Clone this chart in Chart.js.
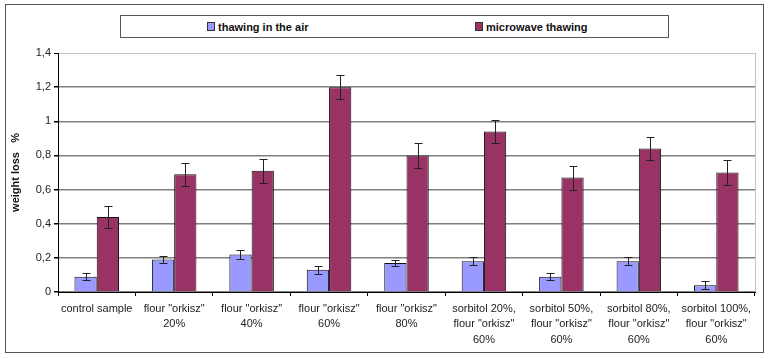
<!DOCTYPE html>
<html lang="en">
<head>
    <meta charset="UTF-8">
    <title>Weight loss</title>
    <script src="https://cdn.jsdelivr.net/npm/chart.js"></script>
    <style>
        body {
            margin: 0;
            background: #ffffff;
            font-family: 'Liberation Sans', Arial, sans-serif;
        }
        .wrap {
            position: relative;
            width: 770px;
            height: 359px;
        }
        .frame {
            position: absolute;
            left: 5px;
            top: 4px;
            width: 757px;
            height: 347px;
            border: 1px solid #555;
        }
        canvas {
            position: absolute;
            left: 0;
            top: 0;
        }
        #legend {
            position: absolute;
            left: 120px;
            top: 15px;
            width: 547px;
            height: 21px;
            border: 1px solid #555;
            display: flex;
            background: #fff;
        }
        #legend .item {
            flex: 1;
            display: flex;
            align-items: center;
            justify-content: center;
            font-size: 11px;
            font-weight: bold;
            color: #111;
        }
        #legend .box {
            width: 6px;
            height: 7px;
            border: 1px solid #333;
            margin-right: 3px;
        }
    </style>
</head>
<body>
    <div class="wrap">
        <div class="frame"></div>
        <canvas id="lossChart" width="770" height="359"></canvas>
        <div id="legend"></div>
    </div>

    <script>
        const categories = [
            "control sample",
            ['flour "orkisz"', "20%"],
            ['flour "orkisz"', "40%"],
            ['flour "orkisz"', "60%"],
            ['flour "orkisz"', "80%"],
            ["sorbitol 20%,", 'flour "orkisz"', "60%"],
            ["sorbitol 50%,", 'flour "orkisz"', "60%"],
            ["sorbitol 80%,", 'flour "orkisz"', "60%"],
            ["sorbitol 100%,", 'flour "orkisz"', "60%"]
        ];
        const seriesNames = ["thawing in the air", "microwave thawing"];
        const airLoss = [0.09, 0.19, 0.22, 0.13, 0.17, 0.18, 0.09, 0.18, 0.04];
        const airErr = [0.02, 0.022, 0.024, 0.022, 0.018, 0.024, 0.02, 0.024, 0.022];
        const microLoss = [0.44, 0.69, 0.71, 1.2, 0.8, 0.94, 0.67, 0.84, 0.7];
        const microErr = [0.066, 0.068, 0.07, 0.072, 0.073, 0.07, 0.071, 0.069, 0.071];
        const yTicks = [0, 0.2, 0.4, 0.6, 0.8, 1, 1.2, 1.4];

        const colors = ["#9999ff", "#993366"];

        // error bars drawn from the y scale
        const errorBars = {
            id: "errorBars",
            afterDatasetsDraw(chart) {
                const ctx = chart.ctx;
                const y = chart.scales.y;
                ctx.save();
                ctx.strokeStyle = "#222";
                ctx.lineWidth = 1;
                chart.data.datasets.forEach((ds, di) => {
                    const meta = chart.getDatasetMeta(di);
                    meta.data.forEach((bar, i) => {
                        const v = ds.data[i];
                        const e = ds.errors[i];
                        const x = Math.round(bar.x) + 0.5;
                        const top = Math.round(y.getPixelForValue(v + e)) + 0.5;
                        const bot = Math.round(y.getPixelForValue(v - e)) + 0.5;
                        ctx.beginPath();
                        ctx.moveTo(x, top);
                        ctx.lineTo(x, bot);
                        ctx.moveTo(x - 4, top);
                        ctx.lineTo(x + 4, top);
                        ctx.moveTo(x - 4, bot);
                        ctx.lineTo(x + 4, bot);
                        ctx.stroke();
                    });
                });
                ctx.restore();
            }
        };

        // light grey right edge of the plot area
        const plotEdge = {
            id: "plotEdge",
            beforeDatasetsDraw(chart) {
                const { ctx, chartArea } = chart;
                ctx.save();
                ctx.strokeStyle = "#c4c4c4";
                ctx.lineWidth = 1;
                ctx.beginPath();
                ctx.moveTo(Math.round(chartArea.right) + 0.5, chartArea.top);
                ctx.lineTo(Math.round(chartArea.right) + 0.5, chartArea.bottom);
                ctx.stroke();
                ctx.restore();
            }
        };

        Chart.defaults.font.family = "'Liberation Sans', Arial, sans-serif";
        Chart.defaults.font.size = 11;
        Chart.defaults.color = "#222";

        const chart = new Chart(document.getElementById("lossChart"), {
            type: "bar",
            data: {
                labels: categories,
                datasets: [
                    {
                        label: seriesNames[0],
                        data: airLoss,
                        errors: airErr,
                        backgroundColor: colors[0],
                        borderColor: "#111",
                        borderWidth: 1,
                        categoryPercentage: 0.575,
                        barPercentage: 1
                    },
                    {
                        label: seriesNames[1],
                        data: microLoss,
                        errors: microErr,
                        backgroundColor: colors[1],
                        borderColor: "#111",
                        borderWidth: 1,
                        categoryPercentage: 0.575,
                        barPercentage: 1
                    }
                ]
            },
            options: {
                responsive: false,
                animation: false,
                layout: { padding: { top: 53, right: 15, bottom: 0, left: 0 } },
                plugins: {
                    legend: { display: false },
                    tooltip: { enabled: false }
                },
                scales: {
                    x: {
                        afterFit: s => { s.height = 67; },
                        grid: {
                            offset: true,
                            drawOnChartArea: false,
                            tickLength: 4,
                            tickColor: "#000"
                        },
                        border: { color: "#000", width: 1 },
                        ticks: {
                            autoSkip: false,
                            maxRotation: 0,
                            padding: 5,
                            color: "#222",
                            font: { size: 11, lineHeight: 1.4 }
                        }
                    },
                    y: {
                        min: 0,
                        max: 1.4,
                        afterFit: s => { s.width = 58; },
                        afterBuildTicks: s => { s.ticks = yTicks.map(v => ({ value: v })); },
                        grid: {
                            color: c => (c.tick && c.tick.value === 1.4 ? "#c4c4c4" : "#808080"),
                            lineWidth: c => (c.tick && c.tick.value === 1.4 ? 1 : 1.5),
                            tickLength: 4,
                            tickColor: "#000"
                        },
                        border: { color: "#000", width: 1 },
                        ticks: {
                            padding: 3,
                            color: "#222",
                            callback: v => String(Math.round(v * 10) / 10).replace(".", ",")
                        },
                        title: {
                            display: true,
                            text: "weight loss   %",
                            color: "#111",
                            font: { size: 11, weight: "bold" },
                            padding: { top: 9, bottom: 0 }
                        }
                    }
                }
            },
            plugins: [errorBars, plotEdge]
        });

        // legend box as html
        const legend = document.getElementById("legend");
        chart.data.datasets.forEach(ds => {
            const item = document.createElement("div");
            item.className = "item";
            const box = document.createElement("span");
            box.className = "box";
            box.style.background = ds.backgroundColor;
            const txt = document.createElement("span");
            txt.textContent = ds.label;
            item.appendChild(box);
            item.appendChild(txt);
            legend.appendChild(item);
        });
    </script>
</body>
</html>
